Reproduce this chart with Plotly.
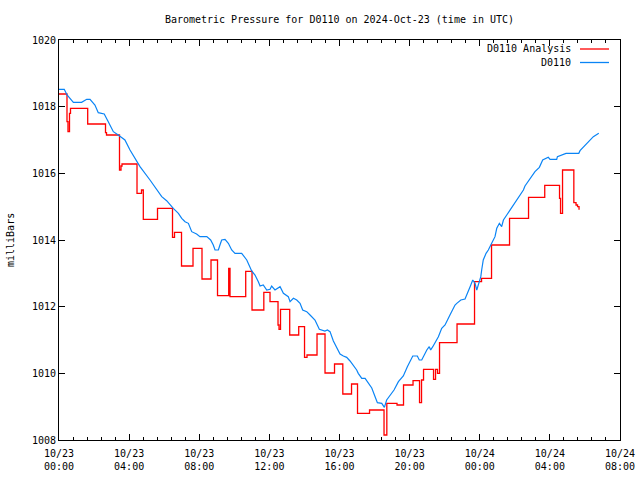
import pandas as pd
import plotly.graph_objects as go

BASE = "2024-10-23 00:00"
TITLE = "Barometric Pressure for D0110 on 2024-Oct-23 (time in UTC)"

# D0110 observed pressure: hours after 2024-10-23 00:00 UTC, millibars
obs_hours = [0.00, 0.30, 0.46, 0.82, 1.29, 1.58, 1.77, 2.05, 2.24, 2.58, 2.81, 3.10, 3.38, 3.76,
             4.05, 4.34, 4.62, 5.19, 5.38, 5.66, 5.86, 6.14, 6.33, 6.52, 6.81, 7.00, 7.19, 7.38,
             7.57, 7.85, 8.04, 8.43, 8.65, 8.80, 8.90, 9.09, 9.18, 9.28, 9.47, 9.66, 9.85, 10.04,
             10.42, 10.71, 10.99, 11.18, 11.37, 11.47, 11.65, 11.85, 12.04, 12.13, 12.32, 12.61,
             12.80, 13.08, 13.18, 13.37, 13.56, 13.75, 13.90, 14.13, 14.32, 14.60, 14.85, 15.17,
             15.31, 15.46, 15.65, 15.84, 16.03, 16.22, 16.41, 16.60, 16.79, 16.98, 17.07, 17.27,
             17.46, 17.64, 17.84, 18.03, 18.16, 18.41, 18.56, 18.69, 18.88, 19.11, 19.36, 19.64,
             19.87, 19.98, 20.18, 20.44, 20.55, 20.69, 20.82, 20.98, 21.12, 21.20, 21.32, 21.45,
             21.64, 21.83, 22.02, 22.30, 22.59, 22.69, 22.92, 23.16, 23.35, 23.45, 23.60, 23.73,
             23.83, 23.92, 24.06, 24.11, 24.20, 24.36, 24.49, 24.68, 24.87, 24.97, 25.12, 25.25,
             25.35, 25.54, 25.73, 25.92, 26.20, 26.49, 26.58, 26.87, 27.15, 27.40, 27.59, 27.91,
             28.01, 28.39, 28.43, 28.92, 29.65, 29.72, 30.10, 30.48, 30.79]
obs_mb = [1018.52, 1018.52, 1018.35, 1018.13, 1018.13, 1018.22, 1018.22, 1018.05, 1017.82, 1017.78,
          1017.55, 1017.25, 1017.15, 1017.00, 1016.70, 1016.45, 1016.20, 1015.80, 1015.65, 1015.45,
          1015.30, 1015.18, 1015.05, 1014.95, 1014.80, 1014.65, 1014.55, 1014.50, 1014.25, 1014.18,
          1014.10, 1014.10, 1014.00, 1013.85, 1013.70, 1013.70, 1013.85, 1014.00, 1014.02, 1013.90,
          1013.70, 1013.60, 1013.60, 1013.40, 1013.07, 1012.95, 1012.75, 1012.62, 1012.65, 1012.50,
          1012.52, 1012.62, 1012.50, 1012.60, 1012.40, 1012.30, 1012.15, 1012.25, 1012.20, 1012.10,
          1011.90, 1011.85, 1011.75, 1011.60, 1011.32, 1011.27, 1011.30, 1011.25, 1010.97, 1010.76,
          1010.58, 1010.52, 1010.48, 1010.37, 1010.25, 1010.10, 1010.00, 1009.85, 1009.85, 1009.71,
          1009.56, 1009.30, 1009.12, 1009.10, 1008.98, 1009.20, 1009.35, 1009.50, 1009.75, 1009.92,
          1010.20, 1010.32, 1010.52, 1010.52, 1010.40, 1010.40, 1010.55, 1010.70, 1010.80, 1010.70,
          1010.80, 1010.92, 1011.10, 1011.35, 1011.45, 1011.75, 1012.05, 1012.10, 1012.20, 1012.23,
          1012.45, 1012.60, 1012.80, 1012.70, 1012.50, 1012.65, 1012.90, 1013.10, 1013.40, 1013.60,
          1013.70, 1013.90, 1014.10, 1014.35, 1014.50, 1014.40, 1014.60, 1014.75, 1014.90, 1015.08,
          1015.30, 1015.50, 1015.62, 1015.85, 1016.05, 1016.18, 1016.40, 1016.48, 1016.42, 1016.42,
          1016.50, 1016.60, 1016.60, 1016.68, 1016.90, 1017.10, 1017.20]

# D0110 Analysis (stepped): hours where the value changes, and the new value
ana_hours = [0.000, 0.456, 0.513, 0.599, 0.656, 1.637, 2.653, 2.710, 3.451, 3.537, 3.594, 4.450,
             4.706, 4.809, 5.619, 6.475, 6.589, 6.988, 7.644, 8.157, 8.671, 9.042, 9.680, 9.755,
             10.650, 11.010, 11.683, 12.036, 12.493, 12.550, 12.635, 13.160, 13.674, 14.005,
             14.147, 14.718, 15.174, 15.716, 16.189, 16.686, 17.028, 17.713, 18.540, 18.700,
             19.281, 19.652, 20.194, 20.565, 20.679, 20.793, 21.364, 21.478, 21.592, 21.706,
             22.704, 23.702, 24.102, 24.672, 25.699, 26.783, 27.707, 28.551, 28.608, 28.722,
             29.367, 29.492, 29.578, 29.663, 29.700]
ana_mb = [1018.38, 1017.55, 1017.25, 1017.80, 1017.95, 1017.48, 1017.22, 1017.15, 1016.10, 1016.22,
          1016.28, 1015.40, 1015.50, 1014.62, 1014.95, 1014.08, 1014.23, 1013.22, 1013.75, 1012.83,
          1013.40, 1012.33, 1013.15, 1012.30, 1013.06, 1011.90, 1012.43, 1012.15, 1011.45, 1011.32,
          1011.92, 1011.15, 1011.40, 1010.48, 1010.55, 1011.18, 1010.01, 1010.28, 1009.38, 1009.68,
          1008.80, 1008.90, 1008.15, 1009.10, 1009.05, 1009.65, 1009.78, 1009.12, 1009.80, 1010.12,
          1009.82, 1010.12, 1010.00, 1010.92, 1011.48, 1012.75, 1012.85, 1013.85, 1014.65, 1015.28,
          1015.64, 1015.25, 1014.80, 1016.10, 1015.12, 1015.05, 1015.00, 1014.93, 1014.93]

X_START = "2024-10-23 00:00"
X_END = "2024-10-24 08:00"
Y_RANGE = [1008, 1020]

base = pd.Timestamp(BASE)
obs_t = base + pd.to_timedelta(obs_hours, unit="h")
ana_t = base + pd.to_timedelta(ana_hours, unit="h")

FONT = "DejaVu Sans Mono"
RED = "#ff0000"
BLUE = "#0a84f5"

fig = go.Figure()
fig.add_trace(go.Scatter(x=ana_t, y=ana_mb, mode="lines", line=dict(color=RED, width=1.3, shape="hv"),
                         name="D0110 Analysis"))
fig.add_trace(go.Scatter(x=obs_t, y=obs_mb, mode="lines", line=dict(color=BLUE, width=1.2),
                         name="D0110"))

axis_common = dict(showline=True, linecolor="black", linewidth=1, mirror="ticks", ticks="inside",
                   tickcolor="black", tickwidth=1, showgrid=False, zeroline=False, automargin=False,
                   tickfont=dict(family=FONT, size=10, color="black"))

fig.update_xaxes(range=[X_START, X_END], type="date", tick0=X_START, dtick=4 * 3600 * 1000,
                 tickformat="%m/%d<br>%H:%M", ticklen=6, ticklabelstandoff=4,
                 minor=dict(ticks="inside", dtick=48 * 60 * 1000, ticklen=3, tickcolor="black",
                            showgrid=False),
                 **axis_common)
fig.update_yaxes(range=Y_RANGE, dtick=2, ticklen=6, **axis_common)

# gnuplot-style legend (text right-aligned, sample line after it)
leg_items = [("D0110 Analysis", RED, 0.9775), ("D0110", BLUE, 0.94375)]
for label, col, yy in leg_items:
    fig.add_annotation(x=0.9162, y=yy, xref="paper", yref="paper", text=label, showarrow=False,
                       xanchor="right", yanchor="middle", font=dict(family=FONT, size=10, color="black"))
    fig.add_shape(type="line", xref="paper", yref="paper", x0=0.9287, x1=0.9804, y0=yy, y1=yy,
                  line=dict(color=col, width=1.3))

fig.add_annotation(x=0, y=0.5, xref="paper", yref="paper", xshift=-49, text="milliBars",
                   textangle=-90, showarrow=False, xanchor="center", yanchor="middle",
                   font=dict(family=FONT, size=10, color="black"))

fig.update_layout(
    width=640, height=480,
    margin=dict(l=59, r=20, t=40, b=40, autoexpand=False),
    paper_bgcolor="white", plot_bgcolor="white",
    showlegend=False,
    title=dict(text=TITLE, x=0.5, xref="paper", y=1 - 19 / 480, yref="container",
               xanchor="center", yanchor="middle", font=dict(family=FONT, size=10, color="black")),
)

fig.write_html("out.html", config={"displayModeBar": False},
               post_script="document.body.style.margin='0';document.body.style.padding='0';")
